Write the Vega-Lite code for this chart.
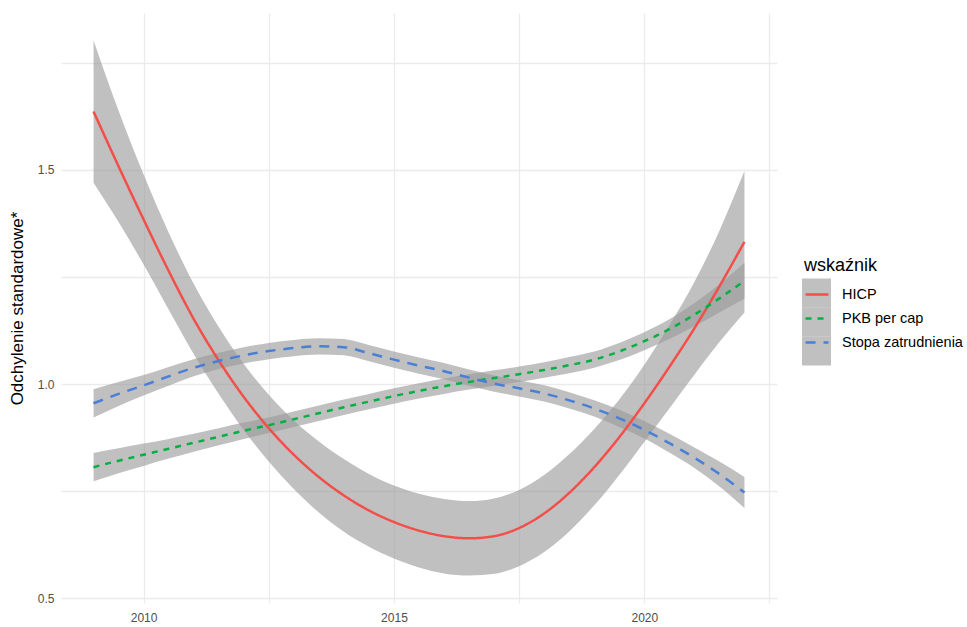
{
  "$schema": "https://vega.github.io/schema/vega-lite/v6.json",
  "width": 716,
  "height": 590,
  "autosize": {"type": "none"},
  "padding": {"left": 61, "top": 13, "right": 190, "bottom": 24},
  "background": "white",
  "config": {
    "view": {"stroke": null},
    "font": "Liberation Sans",
    "axis": {
      "domain": false, "ticks": false, "tickSize": 0,
      "gridColor": "#EBEBEB", "gridWidth": 1.3,
      "labelFont": "Liberation Sans", "labelFontSize": 12, "labelColor": "#4D4D4D",
      "titleFont": "Liberation Sans", "titleFontSize": 17, "titleFontWeight": "normal", "titleColor": "#000000",
      "labelOverlap": false, "labelFlush": false
    },
    "axisX": {"labelPadding": 9},
    "axisY": {"labelPadding": 7, "titlePadding": 11},
    "legend": {
      "titleFont": "Liberation Sans", "titleFontSize": 18, "titleFontWeight": "normal",
      "labelFont": "Liberation Sans", "labelFontSize": 14.5, "padding": 0, "titlePadding": 6.5
    }
  },
  "data": {"values": [
    {"year": 2009, "series": "HICP", "fit": 1.636, "lo": 1.470, "hi": 1.802},
    {"year": 2009.5, "series": "HICP", "fit": 1.508, "lo": 1.378, "hi": 1.638},
    {"year": 2010, "series": "HICP", "fit": 1.384, "lo": 1.279, "hi": 1.489},
    {"year": 2010.5, "series": "HICP", "fit": 1.264, "lo": 1.174, "hi": 1.354},
    {"year": 2011, "series": "HICP", "fit": 1.152, "lo": 1.070, "hi": 1.234},
    {"year": 2011.5, "series": "HICP", "fit": 1.055, "lo": 0.977, "hi": 1.133},
    {"year": 2012, "series": "HICP", "fit": 0.970, "lo": 0.893, "hi": 1.047},
    {"year": 2012.5, "series": "HICP", "fit": 0.897, "lo": 0.819, "hi": 0.975},
    {"year": 2013, "series": "HICP", "fit": 0.835, "lo": 0.755, "hi": 0.915},
    {"year": 2013.5, "series": "HICP", "fit": 0.783, "lo": 0.700, "hi": 0.866},
    {"year": 2014, "series": "HICP", "fit": 0.740, "lo": 0.655, "hi": 0.825},
    {"year": 2014.5, "series": "HICP", "fit": 0.705, "lo": 0.620, "hi": 0.790},
    {"year": 2015, "series": "HICP", "fit": 0.678, "lo": 0.593, "hi": 0.763},
    {"year": 2015.5, "series": "HICP", "fit": 0.658, "lo": 0.572, "hi": 0.744},
    {"year": 2016, "series": "HICP", "fit": 0.645, "lo": 0.558, "hi": 0.732},
    {"year": 2016.5, "series": "HICP", "fit": 0.640, "lo": 0.553, "hi": 0.727},
    {"year": 2017, "series": "HICP", "fit": 0.645, "lo": 0.557, "hi": 0.733},
    {"year": 2017.5, "series": "HICP", "fit": 0.664, "lo": 0.575, "hi": 0.753},
    {"year": 2018, "series": "HICP", "fit": 0.698, "lo": 0.608, "hi": 0.788},
    {"year": 2018.5, "series": "HICP", "fit": 0.746, "lo": 0.656, "hi": 0.836},
    {"year": 2019, "series": "HICP", "fit": 0.806, "lo": 0.717, "hi": 0.895},
    {"year": 2019.5, "series": "HICP", "fit": 0.876, "lo": 0.788, "hi": 0.964},
    {"year": 2020, "series": "HICP", "fit": 0.955, "lo": 0.865, "hi": 1.045},
    {"year": 2020.5, "series": "HICP", "fit": 1.040, "lo": 0.943, "hi": 1.137},
    {"year": 2021, "series": "HICP", "fit": 1.130, "lo": 1.022, "hi": 1.238},
    {"year": 2021.5, "series": "HICP", "fit": 1.228, "lo": 1.098, "hi": 1.358},
    {"year": 2022, "series": "HICP", "fit": 1.332, "lo": 1.167, "hi": 1.497},

    {"year": 2009, "series": "PKB per cap", "fit": 0.806, "lo": 0.773, "hi": 0.839},
    {"year": 2009.5, "series": "PKB per cap", "fit": 0.821, "lo": 0.792, "hi": 0.850},
    {"year": 2010, "series": "PKB per cap", "fit": 0.835, "lo": 0.809, "hi": 0.861},
    {"year": 2010.5, "series": "PKB per cap", "fit": 0.849, "lo": 0.826, "hi": 0.872},
    {"year": 2011, "series": "PKB per cap", "fit": 0.863, "lo": 0.842, "hi": 0.884},
    {"year": 2011.5, "series": "PKB per cap", "fit": 0.877, "lo": 0.857, "hi": 0.897},
    {"year": 2012, "series": "PKB per cap", "fit": 0.891, "lo": 0.872, "hi": 0.910},
    {"year": 2012.5, "series": "PKB per cap", "fit": 0.904, "lo": 0.886, "hi": 0.922},
    {"year": 2013, "series": "PKB per cap", "fit": 0.918, "lo": 0.900, "hi": 0.936},
    {"year": 2013.5, "series": "PKB per cap", "fit": 0.932, "lo": 0.914, "hi": 0.950},
    {"year": 2014, "series": "PKB per cap", "fit": 0.946, "lo": 0.928, "hi": 0.964},
    {"year": 2014.5, "series": "PKB per cap", "fit": 0.959, "lo": 0.941, "hi": 0.977},
    {"year": 2015, "series": "PKB per cap", "fit": 0.972, "lo": 0.954, "hi": 0.990},
    {"year": 2015.5, "series": "PKB per cap", "fit": 0.984, "lo": 0.966, "hi": 1.002},
    {"year": 2016, "series": "PKB per cap", "fit": 0.995, "lo": 0.977, "hi": 1.013},
    {"year": 2016.5, "series": "PKB per cap", "fit": 1.005, "lo": 0.987, "hi": 1.023},
    {"year": 2017, "series": "PKB per cap", "fit": 1.014, "lo": 0.996, "hi": 1.032},
    {"year": 2017.5, "series": "PKB per cap", "fit": 1.023, "lo": 1.005, "hi": 1.041},
    {"year": 2018, "series": "PKB per cap", "fit": 1.033, "lo": 1.015, "hi": 1.051},
    {"year": 2018.5, "series": "PKB per cap", "fit": 1.044, "lo": 1.025, "hi": 1.063},
    {"year": 2019, "series": "PKB per cap", "fit": 1.057, "lo": 1.038, "hi": 1.076},
    {"year": 2019.5, "series": "PKB per cap", "fit": 1.076, "lo": 1.056, "hi": 1.096},
    {"year": 2020, "series": "PKB per cap", "fit": 1.100, "lo": 1.079, "hi": 1.121},
    {"year": 2020.5, "series": "PKB per cap", "fit": 1.128, "lo": 1.105, "hi": 1.151},
    {"year": 2021, "series": "PKB per cap", "fit": 1.162, "lo": 1.135, "hi": 1.189},
    {"year": 2021.5, "series": "PKB per cap", "fit": 1.200, "lo": 1.167, "hi": 1.233},
    {"year": 2022, "series": "PKB per cap", "fit": 1.241, "lo": 1.199, "hi": 1.283},

    {"year": 2009, "series": "Stopa zatrudnienia", "fit": 0.955, "lo": 0.922, "hi": 0.988},
    {"year": 2009.5, "series": "Stopa zatrudnienia", "fit": 0.977, "lo": 0.949, "hi": 1.005},
    {"year": 2010, "series": "Stopa zatrudnienia", "fit": 0.997, "lo": 0.973, "hi": 1.021},
    {"year": 2010.5, "series": "Stopa zatrudnienia", "fit": 1.018, "lo": 0.996, "hi": 1.040},
    {"year": 2011, "series": "Stopa zatrudnienia", "fit": 1.038, "lo": 1.018, "hi": 1.058},
    {"year": 2011.5, "series": "Stopa zatrudnienia", "fit": 1.054, "lo": 1.035, "hi": 1.073},
    {"year": 2012, "series": "Stopa zatrudnienia", "fit": 1.067, "lo": 1.048, "hi": 1.086},
    {"year": 2012.5, "series": "Stopa zatrudnienia", "fit": 1.077, "lo": 1.058, "hi": 1.096},
    {"year": 2013, "series": "Stopa zatrudnienia", "fit": 1.084, "lo": 1.065, "hi": 1.103},
    {"year": 2013.5, "series": "Stopa zatrudnienia", "fit": 1.088, "lo": 1.069, "hi": 1.107},
    {"year": 2014, "series": "Stopa zatrudnienia", "fit": 1.086, "lo": 1.067, "hi": 1.105},
    {"year": 2014.5, "series": "Stopa zatrudnienia", "fit": 1.072, "lo": 1.053, "hi": 1.091},
    {"year": 2015, "series": "Stopa zatrudnienia", "fit": 1.057, "lo": 1.038, "hi": 1.076},
    {"year": 2015.5, "series": "Stopa zatrudnienia", "fit": 1.043, "lo": 1.024, "hi": 1.062},
    {"year": 2016, "series": "Stopa zatrudnienia", "fit": 1.030, "lo": 1.011, "hi": 1.049},
    {"year": 2016.5, "series": "Stopa zatrudnienia", "fit": 1.015, "lo": 0.996, "hi": 1.034},
    {"year": 2017, "series": "Stopa zatrudnienia", "fit": 1.001, "lo": 0.982, "hi": 1.020},
    {"year": 2017.5, "series": "Stopa zatrudnienia", "fit": 0.990, "lo": 0.971, "hi": 1.009},
    {"year": 2018, "series": "Stopa zatrudnienia", "fit": 0.978, "lo": 0.959, "hi": 0.997},
    {"year": 2018.5, "series": "Stopa zatrudnienia", "fit": 0.962, "lo": 0.943, "hi": 0.981},
    {"year": 2019, "series": "Stopa zatrudnienia", "fit": 0.943, "lo": 0.924, "hi": 0.962},
    {"year": 2019.5, "series": "Stopa zatrudnienia", "fit": 0.920, "lo": 0.900, "hi": 0.940},
    {"year": 2020, "series": "Stopa zatrudnienia", "fit": 0.893, "lo": 0.873, "hi": 0.913},
    {"year": 2020.5, "series": "Stopa zatrudnienia", "fit": 0.862, "lo": 0.840, "hi": 0.884},
    {"year": 2021, "series": "Stopa zatrudnienia", "fit": 0.828, "lo": 0.804, "hi": 0.852},
    {"year": 2021.5, "series": "Stopa zatrudnienia", "fit": 0.790, "lo": 0.761, "hi": 0.819},
    {"year": 2022, "series": "Stopa zatrudnienia", "fit": 0.747, "lo": 0.711, "hi": 0.783}
  ]},
  "layer": [
    {
      "mark": {"type": "area", "interpolate": "monotone", "opacity": 0.62},
      "encoding": {
        "x": {
          "field": "year", "type": "quantitative",
          "scale": {"domain": [2008.35, 2022.65], "nice": false, "zero": false},
          "axis": {
            "title": null,
            "values": [2010, 2012.5, 2015, 2017.5, 2020, 2022.5],
            "labelExpr": "datum.value % 5 == 0 ? format(datum.value, 'd') : ''"
          }
        },
        "y": {
          "field": "lo", "type": "quantitative",
          "scale": {"domain": [0.489, 1.866], "nice": false, "zero": false},
          "axis": {
            "title": "Odchylenie standardowe*",
            "values": [0.5, 0.75, 1, 1.25, 1.5, 1.75],
            "labelExpr": "(datum.value * 2) % 1 == 0 ? format(datum.value, '.1f') : ''"
          }
        },
        "y2": {"field": "hi"},
        "fill": {
          "field": "series", "type": "nominal",
          "scale": {"range": ["#999999", "#999999", "#999999"]},
          "legend": {
            "orient": "none", "legendX": 741, "legendY": 265.5,
            "title": null,
            "labelExpr": "''",
            "symbolType": "square", "symbolSize": 841, "symbolStrokeWidth": 0,
            "symbolOpacity": 0.62, "rowPadding": 0
          }
        }
      }
    },
    {
      "mark": {"type": "line", "interpolate": "monotone", "strokeWidth": 2.5},
      "encoding": {
        "x": {"field": "year", "type": "quantitative"},
        "y": {"field": "fit", "type": "quantitative", "axis": {"title": "Odchylenie standardowe*", "values": [0.5, 0.75, 1, 1.25, 1.5, 1.75], "labelExpr": "(datum.value * 2) % 1 == 0 ? format(datum.value, '.1f') : ''"}},
        "stroke": {
          "field": "series", "type": "nominal",
          "scale": {"domain": ["HICP", "PKB per cap", "Stopa zatrudnienia"], "range": ["#F44E4A", "#00B043", "#4A7FD6"]},
          "legend": {
            "orient": "none", "legendX": 743, "legendY": 244,
            "title": "wskaźnik", "titleColor": "#000000",
            "labelColor": "#000000", "labelOffset": 12,
            "symbolType": "stroke", "symbolSize": 529, "symbolStrokeWidth": 2.5,
            "rowPadding": 4
          }
        },
        "strokeDash": {
          "field": "series", "type": "nominal",
          "scale": {"domain": ["HICP", "PKB per cap", "Stopa zatrudnienia"], "range": [[1, 0], [6, 6], [10, 8]]}
        }
      }
    }
  ]
}
